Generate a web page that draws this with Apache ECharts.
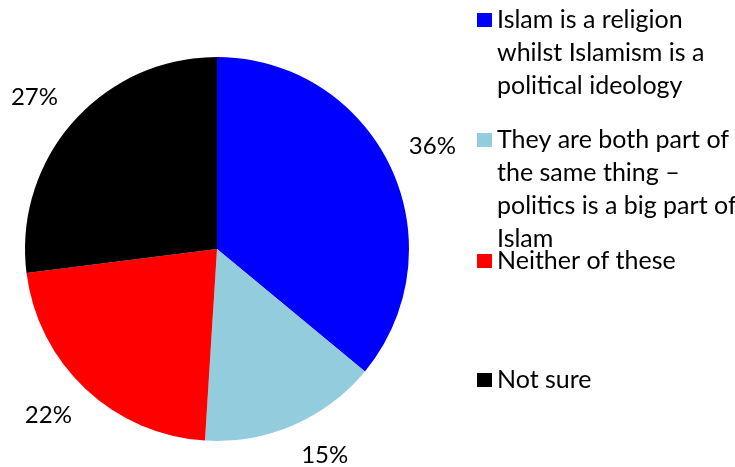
<!DOCTYPE html>
<html>
<head>
<meta charset="utf-8">
<script src="https://cdn.jsdelivr.net/npm/echarts@6/dist/echarts.min.js"></script>
<style>
  html, body { margin: 0; padding: 0; background: #fff; }
  #chart { width: 735px; height: 467px; }
</style>
</head>
<body>
<div id="chart"></div>
<script>
// Survey answers and their shares (percent)
const categories = [
  'Islam is a religion\nwhilst Islamism is a\npolitical ideology',
  'They are both part of\nthe same thing \u2013\npolitics is a big part of\nIslam',
  'Neither of these',
  'Not sure'
];
const values = [36, 15, 22, 27];
const colors = ['#0000FF', '#93CDDD', '#FF0000', '#000000'];

const FONT = 'Lato';
const LINE_H = 33;
const ICON_W = 15, ICON_H = 14;
const CENTER = [217, 249];
const RADIUS = 192;
const LABEL_GAP = 20;   // space between the rim and the nearest corner of a label

const chart = echarts.init(document.getElementById('chart'));

// One legend block per answer so each swatch can sit at its own height.
// Blank lines are prepended so the swatch lines up with the first text line.
const swatchTops = [13, 133, 254, 373];
const legends = categories.map((name, i) => {
  const lines = name.split('\n').length;
  const total = 2 * lines - 1;
  const blockHalf = total * LINE_H / 2;
  return {
    data: [name],
    left: 477,
    top: swatchTops[i] - (blockHalf - ICON_H / 2),
    padding: 0,
    itemWidth: ICON_W,
    itemHeight: ICON_H,
    icon: 'rect',
    orient: 'vertical',
    selectedMode: false,
    formatter: (n) => '\n'.repeat(lines - 1) + n,
    textStyle: {
      fontFamily: FONT,
      fontSize: 25,
      color: '#000',
      lineHeight: LINE_H
    }
  };
});

// Mid-angle of each slice (clockwise from 12 o'clock), from the values
const sum = values.reduce((a, b) => a + b, 0);
const midAngles = [];
values.reduce((acc, v) => {
  midAngles.push((acc + v / 2) / sum * 2 * Math.PI);
  return acc + v;
}, 0);

chart.setOption({
  animation: false,
  legend: legends,
  series: [{
    type: 'pie',
    center: CENTER,
    radius: [0, RADIUS],
    startAngle: 90,
    clockwise: true,
    avoidLabelOverlap: false,
    data: categories.map((name, i) => ({
      name: name,
      value: values[i],
      itemStyle: { color: colors[i] }
    })),
    label: {
      show: true,
      position: 'outside',
      formatter: '{c}%',
      fontFamily: FONT,
      fontSize: 24,
      color: '#000'
    },
    labelLine: { show: false },
    // place each label outside the rim, its inner corner on the slice's mid-angle
    labelLayout: (p) => {
      const a = midAngles[p.dataIndex];
      const s = Math.sin(a), c = -Math.cos(a);
      const d = RADIUS + LABEL_GAP;
      const w = p.labelRect.width, h = p.labelRect.height;
      return {
        x: CENTER[0] + d * s + Math.sign(s) * w / 2,
        y: CENTER[1] + d * c + Math.sign(c) * h / 2,
        align: 'center',
        verticalAlign: 'middle'
      };
    },
    emphasis: { disabled: true }
  }]
});
</script>
</body>
</html>
